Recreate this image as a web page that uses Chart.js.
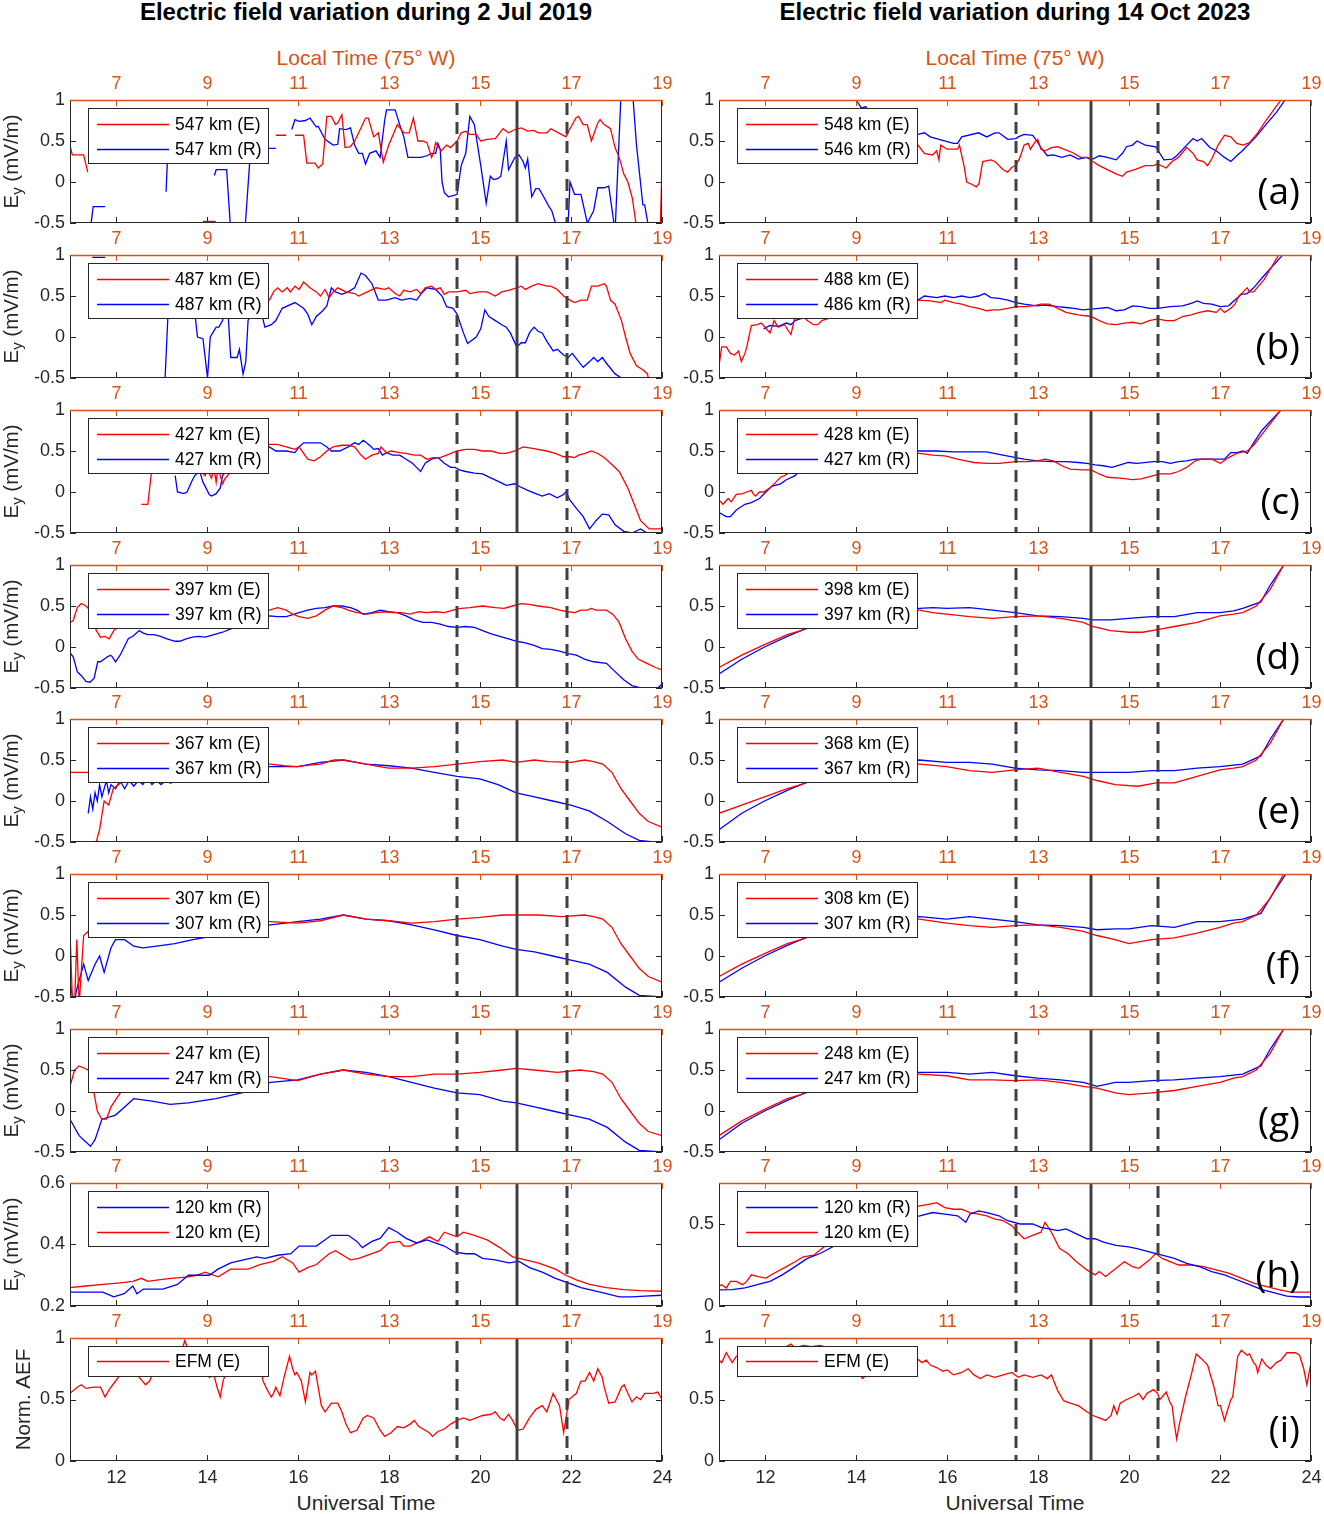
<!DOCTYPE html>
<html><head><meta charset="utf-8">
<script src="https://cdn.jsdelivr.net/npm/chart.js@4.4.1/dist/chart.umd.min.js"></script>
<style>
body{margin:0;background:#fff;width:1324px;height:1514px;position:relative;overflow:hidden;font-family:"Liberation Sans",Arial,sans-serif;}
.lbl{position:absolute;transform:translate(-50%,-50%);white-space:nowrap;}
.ttl{font-weight:bold;font-size:24px;color:#000;}
.lt{font-size:21px;color:#D95319;}
.ut{font-size:21px;color:#262626;}
.pnl{position:absolute;}
</style></head><body>
<div class="lbl ttl" style="left:366px;top:12px">Electric field variation during 2 Jul 2019</div>
<div class="lbl ttl" style="left:1015px;top:12px">Electric field variation during 14 Oct 2023</div>
<div class="lbl lt" style="left:366px;top:58px">Local Time (75° W)</div>
<div class="lbl lt" style="left:1015px;top:58px">Local Time (75° W)</div>
<div class="lbl ut" style="left:366px;top:1503px">Universal Time</div>
<div class="lbl ut" style="left:1015px;top:1503px">Universal Time</div>
<script>
// ===== axis / tick data =====
const UT_TICKS = [12,14,16,18,20,22,24];
const LT_OFFSET = 5;
const EVENTS_L = [19.5, 20.82, 21.92];
const EVENTS_R = [17.52, 19.17, 20.63];
const EVENT_STYLE = ['dash','solid','dash'];
const ROW_TOP = [100,255,410,565,719,874,1029,1183,1338];
const LETTERS = ['(a)','(b)','(c)','(d)','(e)','(f)','(g)','(h)','(i)'];

// ===== legends =====
const LEG_L = [['547 km (E)','547 km (R)'],['487 km (E)','487 km (R)'],['427 km (E)','427 km (R)'],['397 km (E)','397 km (R)'],['367 km (E)','367 km (R)'],['307 km (E)','307 km (R)'],['247 km (E)','247 km (R)'],['120 km (R)','120 km (E)'],['EFM (E)']];
const LEG_R = [['548 km (E)','546 km (R)'],['488 km (E)','486 km (R)'],['428 km (E)','427 km (R)'],['398 km (E)','397 km (R)'],['368 km (E)','367 km (R)'],['308 km (E)','307 km (R)'],['248 km (E)','247 km (R)'],['120 km (R)','120 km (E)'],['EFM (E)']];

// ===== series (UT hour, value) =====
const aLE=[[11,0.45],[11.05,0.33],[11.3,0.33],[11.39,0.12],[11.4,null],[13.92,-0.48],[14.2,-0.48],[14.25,null],[15.52,0.57],[15.75,0.57],[15.8,null],[15.94,0.57],[16.13,0.57],[16.2,0.23],[16.38,0.23],[16.45,0.17],[16.55,0.22],[16.64,0.8],[16.74,0.8],[16.83,0.7],[16.88,0.72],[16.97,0.82],[17.04,0.42],[17.16,0.43],[17.25,0.5],[17.34,0.6],[17.49,0.78],[17.55,0.78],[17.67,0.55],[17.77,0.6],[17.88,0.24],[18.0,0.45],[18.19,0.7],[18.33,0.6],[18.45,0.6],[18.54,0.78],[18.64,0.5],[18.75,0.5],[18.84,0.48],[18.94,0.3],[18.98,0.35],[19.03,0.48],[19.15,0.38],[19.27,0.45],[19.36,0.42],[19.5,0.5],[19.59,0.6],[19.69,0.62],[19.78,0.58],[19.92,0.58],[20.02,0.5],[20.16,0.52],[20.34,0.53],[20.51,0.65],[20.63,0.6],[20.77,0.64],[20.91,0.66],[21.05,0.62],[21.19,0.63],[21.28,0.6],[21.47,0.6],[21.56,0.65],[21.66,0.62],[21.89,0.55],[21.98,0.65],[22.11,0.78],[22.17,0.8],[22.27,0.7],[22.36,0.7],[22.45,0.5],[22.59,0.72],[22.64,0.76],[22.73,0.7],[22.87,0.65],[22.97,0.42],[23.06,0.3],[23.16,0.1],[23.25,0.0],[23.35,-0.2],[23.44,-0.55],[23.6,-0.8],[23.95,-0.8],[24,0.18]];
const aLR=[[11.44,-0.6],[11.51,-0.3],[11.77,-0.3],[11.8,null],[13.11,-0.12],[13.15,0.4],[13.5,0.4],[13.6,null],[14.17,0.08],[14.21,0.15],[14.44,0.15],[14.53,-0.6],[14.6,null],[14.84,-0.6],[14.96,0.35],[15.2,0.4],[15.38,0.41],[15.52,0.41],[15.6,null],[15.87,0.64],[15.94,0.76],[16.03,0.74],[16.17,0.75],[16.27,0.78],[16.41,0.67],[16.45,0.68],[16.6,0.52],[16.78,0.45],[16.88,0.46],[16.92,0.65],[17.06,0.64],[17.16,0.66],[17.25,0.45],[17.34,0.35],[17.42,0.35],[17.49,0.22],[17.58,0.35],[17.72,0.38],[17.81,0.3],[17.91,0.75],[17.95,0.88],[18.14,0.88],[18.24,0.7],[18.33,0.55],[18.42,0.3],[18.7,0.3],[18.84,0.32],[18.94,0.35],[19.03,0.35],[19.08,0.47],[19.13,0.4],[19.17,0.0],[19.22,-0.13],[19.31,-0.18],[19.45,-0.16],[19.5,-0.15],[19.59,0.2],[19.69,0.35],[19.78,0.8],[19.88,0.7],[20.02,0.2],[20.14,-0.26],[20.23,0.07],[20.3,0.03],[20.39,0.04],[20.46,0.07],[20.58,0.5],[20.63,0.15],[20.77,0.3],[20.86,0.33],[20.95,0.25],[21.0,0.17],[21.05,0.28],[21.14,-0.18],[21.23,-0.08],[21.3,-0.08],[21.37,-0.15],[21.52,-0.3],[21.58,-0.35],[21.66,-0.5],[21.8,-0.7],[21.94,-0.5],[21.98,0.0],[22.08,-0.15],[22.22,-0.15],[22.36,-0.5],[22.5,-0.35],[22.59,-0.07],[22.73,-0.07],[22.83,-0.05],[22.97,-0.6],[23.11,1.2],[23.34,1.2],[23.44,0.45],[23.58,-0.28],[23.62,-0.28],[23.72,-0.6]];
const aRE=[[15.0,0.5],[15.37,0.45],[15.51,0.35],[15.69,0.33],[15.78,0.38],[15.83,0.27],[15.87,0.45],[16.01,0.4],[16.24,0.4],[16.28,0.45],[16.38,0.2],[16.44,0.0],[16.56,-0.03],[16.65,-0.06],[16.71,-0.02],[16.79,0.25],[16.97,0.27],[17.06,0.25],[17.24,0.15],[17.34,0.12],[17.43,0.18],[17.52,0.2],[17.61,0.3],[17.7,0.45],[17.79,0.47],[17.84,0.4],[17.93,0.48],[18.0,0.52],[18.07,0.4],[18.16,0.38],[18.3,0.42],[18.44,0.43],[18.57,0.4],[18.76,0.36],[18.94,0.3],[19.08,0.3],[19.21,0.25],[19.35,0.2],[19.53,0.15],[19.72,0.1],[19.86,0.07],[19.95,0.12],[20.13,0.15],[20.36,0.2],[20.54,0.2],[20.63,0.22],[20.82,0.17],[20.95,0.25],[21.09,0.3],[21.27,0.42],[21.41,0.35],[21.5,0.27],[21.64,0.25],[21.73,0.2],[21.82,0.28],[21.96,0.45],[22.1,0.57],[22.24,0.55],[22.37,0.47],[22.51,0.45],[22.65,0.48],[22.83,0.6],[23.01,0.75],[23.34,1.0],[23.5,1.2]];
const aRR=[[14.01,1.0],[14.13,0.9],[14.22,0.92],[14.32,0.85],[14.8,0.7],[15.37,0.58],[15.51,0.6],[15.64,0.55],[15.83,0.52],[16.15,0.47],[16.24,0.47],[16.33,0.55],[16.7,0.6],[16.88,0.55],[17.06,0.6],[17.15,0.6],[17.34,0.52],[17.52,0.53],[17.57,0.55],[17.7,0.58],[17.89,0.57],[17.98,0.5],[18.07,0.42],[18.21,0.32],[18.34,0.33],[18.53,0.3],[18.71,0.33],[18.89,0.28],[19.08,0.3],[19.21,0.28],[19.35,0.32],[19.53,0.3],[19.72,0.27],[19.86,0.35],[19.95,0.43],[20.08,0.45],[20.18,0.5],[20.36,0.45],[20.59,0.43],[20.68,0.35],[20.77,0.27],[20.95,0.28],[21.05,0.32],[21.27,0.45],[21.41,0.53],[21.5,0.5],[21.6,0.53],[21.78,0.42],[21.92,0.38],[22.1,0.3],[22.24,0.25],[22.37,0.32],[22.47,0.37],[22.65,0.47],[22.79,0.55],[23.01,0.7],[23.24,0.85],[23.43,1.0],[23.6,1.2]];

const bLE=[[15.2,0.5],[15.38,0.45],[15.47,0.55],[15.56,0.6],[15.66,0.55],[15.77,0.6],[15.84,0.55],[15.94,0.62],[16.03,0.58],[16.13,0.67],[16.27,0.6],[16.41,0.55],[16.5,0.5],[16.6,0.58],[16.69,0.48],[16.78,0.55],[16.88,0.6],[17.06,0.55],[17.25,0.53],[17.34,0.5],[17.53,0.55],[17.72,0.6],[17.91,0.58],[18.0,0.6],[18.14,0.53],[18.24,0.5],[18.33,0.57],[18.47,0.55],[18.61,0.58],[18.7,0.53],[18.8,0.6],[18.94,0.62],[19.03,0.58],[19.13,0.6],[19.22,0.52],[19.31,0.55],[19.5,0.55],[19.69,0.57],[19.78,0.53],[19.97,0.55],[20.16,0.55],[20.34,0.5],[20.48,0.55],[20.63,0.57],[20.81,0.6],[20.91,0.62],[21.0,0.58],[21.14,0.62],[21.28,0.65],[21.47,0.62],[21.56,0.62],[21.7,0.58],[21.84,0.5],[21.98,0.45],[22.08,0.42],[22.22,0.45],[22.36,0.45],[22.45,0.62],[22.59,0.62],[22.73,0.65],[22.78,0.62],[22.87,0.45],[22.97,0.4],[23.11,0.2],[23.2,0.0],[23.3,-0.2],[23.44,-0.35],[23.58,-0.4],[23.68,-0.45],[23.72,-0.55]];
const bLR=[[11.49,0.97],[11.77,0.97],[11.8,null],[13.08,-0.6],[13.17,0.5],[13.4,0.7],[13.74,0.3],[13.8,0.0],[13.92,-0.02],[14.02,-0.5],[14.08,0.0],[14.21,0.12],[14.27,0.12],[14.35,0.2],[14.42,0.35],[14.47,0.3],[14.53,-0.25],[14.67,-0.25],[14.72,-0.15],[14.8,-0.45],[14.86,-0.3],[14.91,0.2],[15.1,0.45],[15.2,0.3],[15.28,0.12],[15.42,0.15],[15.52,0.2],[15.66,0.35],[15.94,0.42],[16.13,0.35],[16.22,0.28],[16.31,0.15],[16.41,0.25],[16.55,0.32],[16.64,0.38],[16.74,0.6],[16.83,0.55],[16.97,0.52],[17.11,0.55],[17.25,0.6],[17.39,0.78],[17.49,0.75],[17.63,0.65],[17.77,0.45],[17.95,0.45],[18.14,0.48],[18.28,0.45],[18.47,0.47],[18.61,0.45],[18.7,0.52],[18.84,0.6],[19.03,0.58],[19.17,0.5],[19.27,0.37],[19.41,0.35],[19.5,0.28],[19.64,0.05],[19.73,-0.08],[19.92,0.0],[20.02,0.1],[20.11,0.33],[20.2,0.25],[20.34,0.2],[20.48,0.15],[20.58,0.12],[20.67,0.05],[20.81,-0.12],[20.91,-0.07],[21.0,-0.07],[21.09,0.05],[21.19,0.12],[21.28,0.07],[21.37,0.05],[21.47,-0.05],[21.61,-0.17],[21.7,-0.15],[21.84,-0.22],[21.94,-0.25],[22.03,-0.2],[22.17,-0.3],[22.27,-0.37],[22.41,-0.3],[22.5,-0.25],[22.59,-0.3],[22.69,-0.25],[22.78,-0.32],[22.97,-0.45],[23.11,-0.5],[23.25,-0.5],[23.34,-0.55]];
const bRE=[[11.0,-0.35],[11.06,-0.12],[11.16,-0.12],[11.25,-0.2],[11.34,-0.22],[11.43,-0.17],[11.49,-0.3],[11.57,-0.2],[11.61,-0.12],[11.71,0.14],[11.84,0.15],[11.93,0.17],[12.12,0.05],[12.21,0.2],[12.3,0.12],[12.44,0.15],[12.53,0.07],[12.58,0.03],[12.67,0.25],[12.85,0.25],[12.94,0.2],[13.08,0.15],[13.17,0.15],[13.26,0.2],[13.8,0.3],[14.5,0.4],[15.41,0.45],[15.64,0.44],[15.87,0.42],[15.96,0.45],[16.15,0.42],[16.33,0.4],[16.51,0.37],[16.7,0.35],[16.88,0.32],[17.02,0.33],[17.15,0.33],[17.34,0.35],[17.52,0.37],[17.7,0.37],[17.89,0.38],[18.07,0.4],[18.25,0.4],[18.44,0.35],[18.62,0.3],[18.89,0.27],[19.17,0.25],[19.35,0.2],[19.53,0.16],[19.72,0.15],[19.9,0.17],[20.08,0.18],[20.27,0.16],[20.45,0.2],[20.63,0.22],[20.82,0.2],[21.0,0.2],[21.18,0.25],[21.37,0.27],[21.55,0.3],[21.73,0.32],[21.92,0.3],[22.01,0.35],[22.1,0.3],[22.24,0.35],[22.33,0.4],[22.42,0.5],[22.51,0.55],[22.6,0.6],[22.65,0.55],[22.74,0.55],[22.97,0.7],[23.29,1.0],[23.45,1.2]];
const bRR=[[11.98,0.1],[12.12,0.14],[12.3,0.13],[12.48,0.17],[12.58,0.15],[12.67,0.2],[13.2,0.3],[14.5,0.45],[15.37,0.45],[15.51,0.5],[15.78,0.48],[15.96,0.5],[16.15,0.48],[16.33,0.5],[16.51,0.48],[16.7,0.5],[16.83,0.53],[16.97,0.48],[17.15,0.47],[17.34,0.45],[17.52,0.42],[17.7,0.4],[17.98,0.38],[18.16,0.39],[18.44,0.37],[18.62,0.36],[18.8,0.35],[18.99,0.33],[19.35,0.35],[19.53,0.36],[19.72,0.32],[19.9,0.33],[20.08,0.38],[20.27,0.37],[20.45,0.35],[20.63,0.35],[20.91,0.37],[21.18,0.38],[21.37,0.41],[21.5,0.44],[21.64,0.41],[21.82,0.4],[22.01,0.37],[22.19,0.38],[22.33,0.45],[22.47,0.52],[22.6,0.53],[22.74,0.6],[22.97,0.75],[23.38,1.0],[23.5,1.15]];

const cLE=[[12.57,-0.15],[12.71,-0.15],[12.8,0.3],[13.2,0.4],[13.9,0.3],[13.92,0.25],[13.97,0.2],[14.02,0.3],[14.06,0.22],[14.11,0.17],[14.16,0.3],[14.21,0.12],[14.25,0.3],[14.35,0.1],[14.39,0.15],[14.49,0.22],[14.58,0.3],[15.0,0.5],[15.38,0.58],[15.56,0.58],[15.75,0.55],[15.94,0.52],[16.03,0.55],[16.22,0.4],[16.36,0.38],[16.5,0.43],[16.64,0.5],[16.78,0.55],[16.97,0.57],[17.11,0.57],[17.25,0.55],[17.39,0.45],[17.49,0.4],[17.63,0.45],[17.77,0.47],[17.83,0.55],[17.95,0.48],[18.05,0.5],[18.24,0.48],[18.38,0.47],[18.56,0.45],[18.7,0.45],[18.84,0.4],[18.98,0.42],[19.13,0.42],[19.27,0.45],[19.5,0.5],[19.69,0.52],[19.88,0.52],[20.06,0.5],[20.25,0.5],[20.44,0.47],[20.58,0.47],[20.77,0.5],[20.95,0.55],[21.19,0.53],[21.47,0.5],[21.66,0.47],[21.84,0.43],[21.98,0.43],[22.08,0.42],[22.17,0.45],[22.31,0.47],[22.45,0.5],[22.59,0.47],[22.73,0.42],[22.87,0.35],[23.06,0.25],[23.25,0.05],[23.39,-0.15],[23.53,-0.35],[23.72,-0.45],[24.0,-0.45]];
const cLR=[[13.31,0.2],[13.36,0.0],[13.5,-0.02],[13.57,0.0],[13.69,0.15],[13.74,0.2],[13.85,0.25],[13.92,0.12],[14.06,-0.03],[14.11,-0.05],[14.21,-0.02],[14.3,0.05],[14.35,0.2],[14.8,0.5],[15.38,0.55],[15.52,0.5],[15.75,0.5],[15.94,0.48],[16.03,0.55],[16.13,0.6],[16.31,0.6],[16.5,0.6],[16.64,0.55],[16.74,0.5],[16.92,0.5],[17.11,0.55],[17.25,0.6],[17.34,0.58],[17.44,0.63],[17.58,0.57],[17.67,0.52],[17.77,0.53],[17.86,0.45],[17.95,0.48],[18.09,0.45],[18.24,0.45],[18.38,0.4],[18.52,0.35],[18.61,0.3],[18.7,0.25],[18.8,0.35],[18.94,0.4],[19.08,0.42],[19.22,0.35],[19.36,0.3],[19.45,0.3],[19.55,0.27],[19.69,0.25],[19.88,0.23],[20.06,0.22],[20.25,0.17],[20.44,0.12],[20.58,0.08],[20.77,0.1],[20.86,0.07],[21.05,0.02],[21.23,-0.02],[21.37,-0.05],[21.52,-0.02],[21.7,-0.07],[21.84,-0.03],[21.89,0.0],[21.98,-0.1],[22.12,-0.2],[22.27,-0.3],[22.41,-0.45],[22.55,-0.35],[22.69,-0.27],[22.83,-0.28],[22.97,-0.4],[23.16,-0.48],[23.34,-0.5],[23.53,-0.45],[23.67,-0.5],[23.8,-0.6]];
const cRE=[[11.0,-0.1],[11.09,-0.15],[11.2,-0.08],[11.27,-0.12],[11.38,-0.03],[11.52,-0.02],[11.61,0.0],[11.71,0.02],[11.75,-0.02],[11.8,-0.05],[11.89,0.0],[11.98,0.0],[12.12,0.05],[12.25,0.12],[12.35,0.18],[12.44,0.2],[12.58,0.25],[13.5,0.4],[14.5,0.47],[15.41,0.47],[15.69,0.45],[15.96,0.44],[16.24,0.4],[16.42,0.38],[16.6,0.36],[16.88,0.35],[17.15,0.35],[17.52,0.37],[17.79,0.37],[17.98,0.38],[18.16,0.4],[18.34,0.38],[18.53,0.32],[18.71,0.28],[18.99,0.27],[19.17,0.27],[19.35,0.22],[19.53,0.18],[19.81,0.17],[20.08,0.15],[20.27,0.16],[20.54,0.2],[20.68,0.22],[20.91,0.22],[21.09,0.25],[21.27,0.3],[21.46,0.38],[21.6,0.4],[21.82,0.4],[22.01,0.35],[22.19,0.42],[22.37,0.47],[22.6,0.5],[22.74,0.57],[22.92,0.7],[23.34,1.0],[23.5,1.2]];
const cRR=[[11.0,-0.25],[11.16,-0.3],[11.25,-0.3],[11.38,-0.22],[11.57,-0.15],[11.71,-0.13],[11.89,-0.08],[12.03,0.0],[12.16,0.07],[12.35,0.1],[12.48,0.15],[12.67,0.2],[12.76,0.25],[13.5,0.4],[14.5,0.5],[15.41,0.5],[15.78,0.5],[16.15,0.49],[16.51,0.49],[16.88,0.49],[17.15,0.46],[17.52,0.42],[17.7,0.4],[17.98,0.38],[18.34,0.37],[18.62,0.37],[18.89,0.36],[19.08,0.35],[19.26,0.33],[19.44,0.32],[19.63,0.3],[19.81,0.33],[19.99,0.36],[20.18,0.35],[20.54,0.37],[20.73,0.37],[20.91,0.35],[21.09,0.37],[21.27,0.38],[21.46,0.4],[21.82,0.4],[22.1,0.4],[22.24,0.48],[22.37,0.48],[22.51,0.5],[22.6,0.47],[22.74,0.6],[22.92,0.75],[23.34,1.0],[23.5,1.2]];

const dLE=[[11.0,0.3],[11.07,0.32],[11.16,0.48],[11.25,0.53],[11.35,0.5],[11.44,0.45],[11.5,0.3],[11.58,0.2],[11.67,0.12],[11.77,0.13],[11.86,0.1],[11.96,0.2],[12.3,0.35],[13.5,0.4],[15.0,0.45],[15.38,0.45],[15.56,0.48],[15.75,0.45],[15.89,0.4],[16.03,0.37],[16.22,0.35],[16.41,0.38],[16.6,0.45],[16.78,0.5],[16.97,0.48],[17.11,0.45],[17.3,0.42],[17.53,0.4],[17.72,0.42],[17.91,0.43],[18.09,0.42],[18.28,0.42],[18.47,0.4],[18.66,0.43],[18.84,0.42],[19.03,0.43],[19.22,0.42],[19.41,0.45],[19.59,0.47],[19.78,0.48],[20.06,0.5],[20.34,0.48],[20.53,0.47],[20.72,0.5],[20.91,0.53],[21.09,0.52],[21.28,0.5],[21.56,0.48],[21.75,0.45],[21.94,0.43],[22.08,0.42],[22.22,0.45],[22.36,0.45],[22.45,0.47],[22.55,0.45],[22.78,0.45],[22.92,0.4],[23.06,0.3],[23.2,0.1],[23.34,-0.05],[23.48,-0.15],[23.67,-0.2],[23.86,-0.25],[24.0,-0.28]];
const dLR=[[11.0,-0.07],[11.07,-0.12],[11.16,-0.3],[11.25,-0.35],[11.35,-0.42],[11.44,-0.43],[11.53,-0.38],[11.61,-0.18],[11.67,-0.18],[11.82,-0.12],[11.89,-0.1],[11.93,-0.12],[12.0,-0.18],[12.1,-0.1],[12.19,0.0],[12.28,0.1],[12.38,0.13],[12.52,0.2],[12.61,0.17],[12.71,0.15],[12.85,0.15],[12.99,0.13],[13.13,0.1],[13.31,0.07],[13.41,0.07],[13.55,0.1],[13.69,0.12],[13.83,0.13],[13.97,0.12],[14.16,0.15],[14.35,0.18],[14.53,0.22],[14.72,0.25],[14.86,0.3],[15.1,0.35],[15.38,0.38],[15.56,0.37],[15.75,0.37],[16.03,0.42],[16.22,0.45],[16.41,0.47],[16.6,0.48],[16.78,0.5],[16.97,0.5],[17.16,0.48],[17.3,0.45],[17.44,0.4],[17.63,0.42],[17.81,0.45],[18.0,0.43],[18.19,0.42],[18.38,0.38],[18.56,0.33],[18.75,0.3],[18.94,0.3],[19.13,0.28],[19.31,0.25],[19.5,0.24],[19.69,0.25],[19.88,0.24],[20.06,0.2],[20.25,0.16],[20.44,0.13],[20.63,0.1],[20.81,0.07],[21.0,0.05],[21.19,0.02],[21.37,-0.02],[21.56,-0.03],[21.75,-0.05],[21.94,-0.08],[22.12,-0.1],[22.31,-0.15],[22.5,-0.18],[22.78,-0.2],[22.97,-0.3],[23.16,-0.4],[23.34,-0.47],[23.53,-0.5],[23.91,-0.5],[24.0,-0.45]];
const dRE=[[11.0,-0.25],[11.5,-0.1],[12.0,0.03],[12.5,0.15],[12.8,0.2],[13.5,0.35],[14.5,0.45],[15.4,0.45],[15.7,0.42],[16.0,0.4],[16.5,0.37],[17.0,0.35],[17.5,0.37],[18.0,0.38],[18.5,0.35],[19.0,0.3],[19.2,0.25],[19.6,0.2],[20.0,0.18],[20.3,0.18],[20.6,0.21],[21.0,0.25],[21.5,0.3],[22.0,0.38],[22.3,0.4],[22.5,0.42],[22.8,0.5],[23.1,0.7],[23.4,1.0],[23.6,1.2]];
const dRR=[[11.0,-0.33],[11.5,-0.15],[12.0,0.0],[12.5,0.13],[12.8,0.2],[13.5,0.35],[14.5,0.45],[15.4,0.47],[15.7,0.48],[16.0,0.47],[16.5,0.48],[17.0,0.45],[17.5,0.42],[18.0,0.38],[18.5,0.37],[19.0,0.35],[19.2,0.33],[19.6,0.33],[20.0,0.35],[20.5,0.37],[21.0,0.37],[21.5,0.42],[22.0,0.42],[22.3,0.44],[22.5,0.47],[22.9,0.55],[23.1,0.75],[23.4,1.0],[23.6,1.2]];

const eLE=[[11.0,0.35],[11.4,0.35],[11.42,null],[11.55,-0.55],[11.65,-0.35],[11.75,0.0],[11.85,-0.05],[11.95,0.15],[12.3,0.3],[13.5,0.4],[15.0,0.45],[15.4,0.45],[15.7,0.43],[16.0,0.42],[16.3,0.44],[16.5,0.45],[16.8,0.5],[17.0,0.5],[17.3,0.47],[17.5,0.45],[17.8,0.42],[18.0,0.4],[18.5,0.4],[19.0,0.42],[19.5,0.45],[20.0,0.48],[20.5,0.5],[20.8,0.47],[21.2,0.5],[21.5,0.48],[22.0,0.47],[22.3,0.5],[22.5,0.48],[22.7,0.45],[22.9,0.35],[23.1,0.15],[23.3,0.0],[23.5,-0.15],[23.7,-0.25],[24.0,-0.32]];
const eLR=[[11.4,-0.15],[11.45,0.05],[11.5,-0.1],[11.55,0.1],[11.6,0.0],[11.65,0.2],[11.7,0.05],[11.8,0.25],[11.85,0.1],[11.9,0.2],[12.0,0.15],[12.1,0.25],[12.2,0.15],[12.3,0.25],[12.4,0.18],[12.5,0.25],[12.6,0.2],[12.7,0.28],[12.8,0.2],[12.9,0.25],[13.0,0.2],[13.1,0.25],[13.2,0.22],[13.4,0.25],[14.0,0.3],[15.0,0.4],[15.4,0.42],[16.0,0.42],[16.5,0.47],[17.0,0.5],[17.5,0.45],[18.0,0.43],[18.5,0.4],[19.0,0.35],[19.5,0.3],[20.0,0.27],[20.4,0.2],[20.8,0.1],[21.2,0.05],[21.6,0.0],[22.0,-0.05],[22.4,-0.12],[22.8,-0.25],[23.2,-0.4],[23.5,-0.48],[23.8,-0.5]];
const eRE=[[11.0,-0.15],[11.5,-0.05],[12.0,0.05],[12.5,0.15],[12.8,0.2],[13.5,0.35],[14.5,0.45],[15.4,0.45],[16.0,0.42],[16.5,0.37],[17.0,0.35],[17.5,0.38],[18.0,0.4],[18.5,0.35],[19.0,0.3],[19.3,0.25],[19.7,0.2],[20.2,0.18],[20.6,0.22],[21.0,0.22],[21.5,0.3],[22.0,0.38],[22.3,0.4],[22.5,0.42],[22.8,0.5],[23.1,0.7],[23.4,1.0],[23.6,1.2]];
const eRR=[[11.0,-0.35],[11.5,-0.15],[12.0,0.0],[12.5,0.13],[12.8,0.2],[13.5,0.35],[14.5,0.47],[15.4,0.5],[16.0,0.47],[16.5,0.47],[17.0,0.45],[17.5,0.4],[18.0,0.38],[18.5,0.37],[19.0,0.35],[19.5,0.35],[20.0,0.35],[20.5,0.37],[21.0,0.37],[21.5,0.4],[22.0,0.42],[22.5,0.45],[22.9,0.55],[23.1,0.75],[23.4,1.0],[23.6,1.2]];

const fLE=[[11.0,0.3],[11.05,-0.5],[11.1,-0.6],[11.15,0.2],[11.2,-0.6],[11.3,0.25],[11.4,0.3],[12.0,0.35],[13.5,0.4],[15.0,0.42],[15.4,0.42],[16.0,0.4],[16.5,0.43],[17.0,0.5],[17.5,0.45],[18.0,0.43],[18.5,0.4],[19.0,0.42],[19.5,0.45],[20.0,0.47],[20.5,0.5],[20.9,0.5],[21.3,0.5],[21.8,0.48],[22.3,0.5],[22.5,0.48],[22.7,0.45],[22.9,0.35],[23.1,0.15],[23.3,0.0],[23.5,-0.15],[23.7,-0.25],[24.0,-0.32]];
const fLR=[[11.0,-0.3],[11.08,-0.6],[11.15,-0.4],[11.3,-0.1],[11.4,-0.3],[11.55,-0.1],[11.65,0.0],[11.75,-0.2],[11.9,0.1],[12.0,0.2],[12.2,0.2],[12.4,0.12],[12.6,0.1],[12.9,0.12],[13.3,0.15],[13.7,0.2],[14.2,0.25],[15.0,0.35],[15.4,0.38],[16.0,0.42],[16.5,0.45],[17.0,0.5],[17.5,0.45],[18.0,0.43],[18.5,0.38],[19.0,0.32],[19.5,0.25],[20.0,0.2],[20.5,0.12],[20.8,0.08],[21.2,0.05],[21.6,0.0],[22.0,-0.05],[22.4,-0.1],[22.8,-0.2],[23.2,-0.38],[23.5,-0.48],[24.0,-0.5]];
const fRE=[[11.0,-0.25],[11.5,-0.1],[12.0,0.03],[12.5,0.15],[12.8,0.2],[13.5,0.35],[14.5,0.45],[15.4,0.45],[16.0,0.4],[16.5,0.37],[17.0,0.35],[17.5,0.37],[18.0,0.38],[18.5,0.35],[19.0,0.3],[19.3,0.25],[19.7,0.2],[20.0,0.15],[20.5,0.2],[21.0,0.22],[21.5,0.28],[22.0,0.35],[22.3,0.4],[22.5,0.42],[22.8,0.5],[23.1,0.7],[23.4,1.0],[23.6,1.2]];
const fRR=[[11.0,-0.32],[11.5,-0.15],[12.0,0.0],[12.5,0.13],[12.8,0.2],[13.5,0.35],[14.5,0.45],[15.4,0.48],[16.0,0.45],[16.5,0.48],[17.0,0.45],[17.5,0.42],[18.0,0.38],[18.5,0.37],[19.0,0.35],[19.3,0.32],[19.7,0.33],[20.0,0.33],[20.5,0.37],[21.0,0.35],[21.5,0.42],[22.0,0.42],[22.5,0.45],[22.9,0.52],[23.15,0.75],[23.45,1.0],[23.6,1.2]];

const gLE=[[11.0,0.3],[11.1,0.5],[11.2,0.55],[11.4,0.5],[11.5,0.3],[11.6,0.0],[11.7,-0.1],[11.8,-0.1],[11.9,0.05],[12.2,0.3],[13.5,0.4],[15.0,0.42],[15.4,0.42],[16.0,0.37],[16.5,0.45],[17.0,0.5],[17.5,0.45],[18.0,0.42],[18.5,0.42],[19.0,0.45],[19.5,0.45],[20.0,0.47],[20.5,0.5],[20.8,0.52],[21.2,0.5],[21.7,0.47],[22.2,0.5],[22.5,0.48],[22.7,0.45],[22.9,0.35],[23.1,0.15],[23.3,0.0],[23.5,-0.15],[23.7,-0.25],[24.0,-0.3]];
const gLR=[[11.0,-0.1],[11.2,-0.3],[11.45,-0.43],[11.55,-0.35],[11.7,-0.1],[12.0,-0.05],[12.2,0.05],[12.4,0.15],[12.8,0.12],[13.2,0.08],[13.6,0.1],[14.2,0.15],[14.6,0.2],[15.0,0.25],[15.4,0.35],[16.0,0.38],[16.5,0.45],[17.0,0.5],[17.5,0.47],[18.0,0.42],[18.5,0.35],[19.0,0.28],[19.5,0.22],[20.0,0.2],[20.5,0.12],[20.8,0.1],[21.2,0.05],[21.6,0.0],[22.0,-0.05],[22.4,-0.1],[22.8,-0.2],[23.2,-0.38],[23.5,-0.48],[24.0,-0.5]];
const gRE=[[11.0,-0.3],[11.5,-0.12],[12.0,0.02],[12.5,0.15],[12.8,0.2],[13.5,0.35],[14.5,0.45],[15.4,0.45],[16.0,0.43],[16.5,0.38],[17.0,0.38],[17.5,0.37],[18.0,0.38],[18.5,0.35],[19.0,0.3],[19.3,0.28],[19.7,0.22],[20.0,0.2],[20.5,0.22],[21.0,0.25],[21.5,0.3],[22.0,0.35],[22.3,0.4],[22.5,0.42],[22.8,0.5],[23.1,0.7],[23.4,1.0],[23.6,1.2]];
const gRR=[[11.0,-0.35],[11.5,-0.15],[12.0,0.0],[12.5,0.13],[12.8,0.2],[13.5,0.35],[14.5,0.45],[15.4,0.47],[16.0,0.47],[16.5,0.45],[17.0,0.47],[17.5,0.43],[18.0,0.4],[18.5,0.38],[19.0,0.35],[19.3,0.3],[19.7,0.35],[20.0,0.35],[20.5,0.37],[21.0,0.38],[21.5,0.4],[22.0,0.42],[22.5,0.45],[22.9,0.55],[23.1,0.75],[23.4,1.0],[23.6,1.2]];

const hLR=[[11.0,0.245],[11.35,0.245],[11.72,0.245],[11.96,0.23],[12.19,0.24],[12.38,0.265],[12.47,0.24],[12.61,0.255],[13.04,0.255],[13.36,0.27],[13.6,0.3],[14.06,0.3],[14.25,0.32],[14.53,0.34],[14.81,0.35],[15.1,0.36],[15.28,0.355],[15.56,0.365],[15.85,0.37],[16.03,0.395],[16.41,0.395],[16.74,0.43],[17.11,0.43],[17.3,0.41],[17.42,0.39],[17.63,0.41],[17.81,0.42],[18.0,0.455],[18.19,0.44],[18.38,0.42],[18.61,0.405],[18.84,0.415],[19.22,0.395],[19.45,0.375],[19.69,0.37],[19.88,0.37],[20.06,0.355],[20.34,0.35],[20.63,0.34],[20.86,0.345],[21.09,0.325],[21.37,0.31],[21.66,0.29],[21.94,0.275],[22.22,0.26],[22.5,0.25],[22.78,0.24],[23.06,0.23],[23.34,0.23],[23.62,0.232],[24.0,0.235]];
const hLE=[[11.0,0.26],[11.35,0.265],[11.72,0.27],[12.1,0.275],[12.38,0.28],[12.57,0.29],[12.71,0.28],[12.94,0.285],[13.22,0.29],[13.6,0.295],[13.78,0.3],[13.97,0.31],[14.25,0.295],[14.53,0.32],[14.91,0.32],[15.19,0.335],[15.47,0.345],[15.66,0.36],[15.89,0.34],[16.03,0.31],[16.22,0.325],[16.41,0.335],[16.69,0.37],[16.83,0.38],[17.16,0.35],[17.34,0.355],[17.63,0.37],[17.81,0.38],[18.0,0.405],[18.24,0.41],[18.33,0.395],[18.47,0.395],[18.7,0.41],[18.89,0.425],[19.08,0.41],[19.22,0.44],[19.5,0.425],[19.64,0.44],[19.88,0.43],[20.16,0.415],[20.44,0.39],[20.72,0.36],[21.0,0.35],[21.28,0.34],[21.66,0.32],[21.89,0.3],[22.12,0.285],[22.41,0.27],[22.78,0.26],[23.16,0.253],[23.53,0.25],[24.0,0.248]];
const hRR=[[11.0,0.098],[11.29,0.1],[11.57,0.11],[11.84,0.13],[12.12,0.15],[12.39,0.19],[12.67,0.24],[12.94,0.29],[13.22,0.32],[13.49,0.36],[14.2,0.45],[15.0,0.53],[15.41,0.55],[15.69,0.57],[15.96,0.56],[16.24,0.55],[16.42,0.51],[16.51,0.56],[16.7,0.58],[16.88,0.57],[17.15,0.55],[17.34,0.52],[17.61,0.5],[17.89,0.5],[18.07,0.48],[18.25,0.47],[18.44,0.46],[18.62,0.47],[18.85,0.44],[19.08,0.41],[19.26,0.41],[19.44,0.39],[19.72,0.37],[19.99,0.36],[20.18,0.35],[20.45,0.33],[20.73,0.31],[21.0,0.29],[21.27,0.26],[21.55,0.24],[21.82,0.21],[22.1,0.19],[22.37,0.16],[22.65,0.13],[22.92,0.1],[23.2,0.08],[23.47,0.06],[23.75,0.055],[24.0,0.055]];
const hRE=[[11.0,0.12],[11.06,0.13],[11.16,0.11],[11.25,0.15],[11.38,0.15],[11.52,0.13],[11.61,0.15],[11.71,0.19],[11.84,0.18],[12.03,0.17],[12.21,0.2],[12.48,0.24],[12.67,0.27],[12.85,0.3],[13.08,0.31],[13.26,0.35],[13.4,0.38],[14.2,0.5],[15.0,0.58],[15.41,0.61],[15.6,0.62],[15.78,0.63],[15.96,0.6],[16.15,0.59],[16.33,0.59],[16.51,0.57],[16.7,0.56],[16.88,0.55],[17.06,0.53],[17.24,0.52],[17.43,0.49],[17.52,0.46],[17.7,0.41],[17.89,0.43],[18.07,0.45],[18.16,0.51],[18.3,0.45],[18.48,0.35],[18.66,0.32],[18.85,0.27],[19.08,0.22],[19.26,0.19],[19.35,0.21],[19.49,0.18],[19.72,0.23],[19.9,0.27],[20.08,0.24],[20.22,0.23],[20.45,0.28],[20.59,0.32],[20.73,0.29],[20.91,0.27],[21.09,0.25],[21.37,0.25],[21.64,0.24],[21.92,0.22],[22.19,0.2],[22.47,0.17],[22.74,0.14],[23.01,0.12],[23.29,0.1],[23.56,0.085],[24.0,0.085]];

const iLE=[[11.0,0.55],[11.16,0.6],[11.25,0.62],[11.35,0.59],[11.53,0.6],[11.67,0.6],[11.77,0.52],[11.86,0.58],[11.96,0.63],[12.1,0.7],[12.4,0.72],[12.52,0.68],[12.66,0.62],[12.75,0.65],[12.8,0.7],[13.1,0.8],[13.46,0.9],[13.52,0.98],[13.6,0.9],[13.9,0.75],[14.06,0.68],[14.16,0.7],[14.23,0.6],[14.3,0.52],[14.36,0.65],[14.49,0.78],[14.72,0.8],[14.86,0.85],[14.96,0.88],[15.05,0.93],[15.12,0.92],[15.17,0.8],[15.24,0.65],[15.33,0.58],[15.42,0.52],[15.47,0.55],[15.52,0.6],[15.61,0.53],[15.7,0.68],[15.82,0.85],[15.89,0.75],[15.94,0.7],[15.98,0.72],[16.08,0.65],[16.17,0.48],[16.27,0.72],[16.31,0.7],[16.39,0.73],[16.45,0.6],[16.52,0.45],[16.6,0.4],[16.74,0.47],[16.88,0.47],[16.97,0.4],[17.06,0.3],[17.16,0.23],[17.3,0.25],[17.44,0.35],[17.53,0.37],[17.67,0.35],[17.81,0.25],[17.91,0.2],[18.05,0.23],[18.19,0.28],[18.33,0.27],[18.47,0.3],[18.56,0.33],[18.66,0.28],[18.8,0.25],[18.89,0.23],[18.96,0.2],[19.08,0.24],[19.22,0.26],[19.36,0.3],[19.5,0.33],[19.64,0.35],[19.78,0.33],[19.92,0.35],[20.06,0.37],[20.25,0.38],[20.34,0.4],[20.44,0.35],[20.53,0.33],[20.63,0.38],[20.72,0.33],[20.83,0.25],[20.95,0.26],[21.09,0.35],[21.23,0.42],[21.37,0.45],[21.47,0.4],[21.61,0.55],[21.75,0.45],[21.84,0.23],[21.96,0.5],[22.12,0.55],[22.22,0.65],[22.31,0.65],[22.41,0.72],[22.5,0.65],[22.59,0.75],[22.69,0.68],[22.73,0.6],[22.83,0.47],[22.97,0.48],[23.11,0.6],[23.17,0.62],[23.25,0.55],[23.34,0.48],[23.44,0.52],[23.53,0.5],[23.62,0.55],[23.81,0.55],[23.91,0.56],[24.0,0.5]];
const iRE=[[11.0,0.82],[11.06,0.8],[11.16,0.88],[11.29,0.8],[11.38,0.85],[11.8,0.88],[12.2,0.9],[12.48,0.93],[12.58,0.95],[12.67,0.92],[12.85,0.94],[13.03,0.93],[13.22,0.94],[13.4,0.92],[13.7,0.85],[14.0,0.75],[14.15,0.67],[14.5,0.78],[14.91,0.8],[15.05,0.83],[15.18,0.8],[15.32,0.84],[15.46,0.8],[15.55,0.82],[15.64,0.78],[15.78,0.76],[15.92,0.73],[16.01,0.74],[16.15,0.7],[16.33,0.72],[16.47,0.75],[16.6,0.7],[16.74,0.67],[16.88,0.7],[17.06,0.68],[17.24,0.7],[17.43,0.72],[17.57,0.68],[17.7,0.7],[17.89,0.68],[18.07,0.7],[18.21,0.67],[18.3,0.7],[18.44,0.57],[18.57,0.49],[18.71,0.47],[18.89,0.45],[19.08,0.4],[19.21,0.37],[19.35,0.35],[19.49,0.33],[19.61,0.37],[19.67,0.45],[19.74,0.38],[19.81,0.47],[19.95,0.5],[20.08,0.52],[20.22,0.55],[20.31,0.5],[20.4,0.55],[20.54,0.58],[20.63,0.55],[20.68,0.5],[20.73,0.52],[20.82,0.56],[20.91,0.47],[20.95,0.45],[21.0,0.3],[21.05,0.18],[21.11,0.3],[21.23,0.5],[21.37,0.7],[21.48,0.87],[21.6,0.83],[21.73,0.78],[21.87,0.6],[21.96,0.45],[22.01,0.45],[22.1,0.33],[22.14,0.38],[22.24,0.5],[22.28,0.52],[22.39,0.85],[22.47,0.9],[22.6,0.86],[22.65,0.87],[22.74,0.8],[22.79,0.78],[22.83,0.72],[22.92,0.83],[23.01,0.78],[23.11,0.75],[23.24,0.8],[23.34,0.82],[23.47,0.88],[23.66,0.88],[23.75,0.86],[23.84,0.75],[23.91,0.62],[24.0,0.8]];

// ===== y ranges and ticks =====
const Y_STD = [-0.5, 1];          const YT_STD = [-0.5, 0, 0.5, 1];
const Y_H_L = [0.2, 0.6];         const YT_H_L = [0.2, 0.4, 0.6];
const Y_H_R = [0, 0.75];          const YT_H_R = [0, 0.5];
const Y_I = [0, 1];               const YT_I = [0, 0.5, 1];

const RED = '#FF0000', BLUE = '#0000FF', ORANGE = '#D95319', AX = '#262626';

const ROWS = [
  [[aLE,RED],[aLR,BLUE]],[[aRE,RED],[aRR,BLUE]],
  [[bLE,RED],[bLR,BLUE]],[[bRE,RED],[bRR,BLUE]],
  [[cLE,RED],[cLR,BLUE]],[[cRE,RED],[cRR,BLUE]],
  [[dLE,RED],[dLR,BLUE]],[[dRE,RED],[dRR,BLUE]],
  [[eLE,RED],[eLR,BLUE]],[[eRE,RED],[eRR,BLUE]],
  [[fLE,RED],[fLR,BLUE]],[[fRE,RED],[fRR,BLUE]],
  [[gLE,RED],[gLR,BLUE]],[[gRE,RED],[gRR,BLUE]],
  [[hLR,BLUE],[hLE,RED]],[[hRR,BLUE],[hRE,RED]],
  [[iLE,RED]],[[iRE,RED]]
];

const FONT = '"Liberation Sans", Arial, sans-serif';

const decor = {
  id: 'decor',
  afterDatasetsDraw(chart) {
    const p = chart.options.plugins.decor;
    const ctx = chart.ctx, a = chart.chartArea;
    const xs = chart.scales.x, ys = chart.scales.y;
    ctx.save();
    // event lines
    p.events.forEach((t, k) => {
      const X = Math.round(xs.getPixelForValue(t));
      ctx.beginPath();
      ctx.setLineDash(EVENT_STYLE[k] === 'dash' ? [12, 7] : []);
      ctx.lineDashOffset = -3;
      ctx.strokeStyle = '#404040'; ctx.lineWidth = 3;
      ctx.moveTo(X, a.top); ctx.lineTo(X, a.bottom); ctx.stroke();
    });
    ctx.setLineDash([]);
    // box
    ctx.strokeStyle = AX; ctx.lineWidth = 1;
    ctx.beginPath();
    ctx.moveTo(a.left + 0.5, a.top); ctx.lineTo(a.left + 0.5, a.bottom - 0.5);
    ctx.lineTo(a.right - 0.5, a.bottom - 0.5); ctx.lineTo(a.right - 0.5, a.top);
    ctx.stroke();
    // ticks and x labels
    ctx.font = '18px ' + FONT; ctx.textAlign = 'center'; ctx.textBaseline = 'middle';
    UT_TICKS.forEach(v => {
      const X = Math.round(xs.getPixelForValue(v)) + 0.5;
      ctx.lineWidth = 1;
      ctx.strokeStyle = AX; ctx.beginPath(); ctx.moveTo(X, a.bottom); ctx.lineTo(X, a.bottom - 6); ctx.stroke();
      ctx.strokeStyle = ORANGE; ctx.beginPath(); ctx.moveTo(X, a.top); ctx.lineTo(X, a.top + 6); ctx.stroke();
      ctx.fillStyle = ORANGE; ctx.fillText(String(v - LT_OFFSET), X, a.top - 16);
      if (p.last) { ctx.fillStyle = AX; ctx.fillText(String(v), X, a.bottom + 17); }
    });
    ctx.strokeStyle = AX; ctx.lineWidth = 1;
    p.yticks.forEach(v => {
      const Y = Math.round(ys.getPixelForValue(v)) + 0.5;
      ctx.beginPath(); ctx.moveTo(a.left, Y); ctx.lineTo(a.left + 6, Y);
      ctx.moveTo(a.right, Y); ctx.lineTo(a.right - 6, Y); ctx.stroke();
    });
    // top orange axis line
    ctx.strokeStyle = ORANGE; ctx.lineWidth = 1.6;
    ctx.beginPath(); ctx.moveTo(a.left, a.top + 0.5); ctx.lineTo(a.right, a.top + 0.5); ctx.stroke();
    // legend
    const n = p.legend.length;
    const bx = a.left + 18.5, by = a.top + 8.5, bw = 180, bh = n === 1 ? 30 : 55;
    ctx.fillStyle = '#fff'; ctx.fillRect(bx, by, bw, bh);
    ctx.strokeStyle = AX; ctx.lineWidth = 1; ctx.strokeRect(bx, by, bw, bh);
    ctx.font = '17.5px ' + FONT; ctx.textBaseline = 'middle'; ctx.textAlign = 'left';
    p.legend.forEach((txt, k) => {
      const cy = n === 1 ? by + bh / 2 : by + 16 + k * 25;
      ctx.strokeStyle = p.colors[k]; ctx.lineWidth = 1.3;
      ctx.beginPath(); ctx.moveTo(a.left + 27, cy); ctx.lineTo(a.left + 99, cy); ctx.stroke();
      ctx.fillStyle = '#000'; ctx.fillText(txt, a.left + 105, cy + 1);
    });
    // panel letter
    if (p.letter) {
      ctx.font = '37px "Open Sans", "Noto Sans", sans-serif';
      ctx.fillStyle = '#000'; ctx.textAlign = 'right'; ctx.textBaseline = 'middle';
      ctx.fillText(p.letter, a.right - 11, a.top + 93);
    }
    // y title
    if (p.ytitle) {
      ctx.translate(p.ytitle.x, (a.top + a.bottom) / 2);
      ctx.rotate(-Math.PI / 2);
      ctx.fillStyle = AX; ctx.textBaseline = 'middle'; ctx.textAlign = 'left';
      const parts = p.ytitle.parts;
      let w = 0;
      parts.forEach(pt => { ctx.font = pt[1] + 'px ' + FONT; w += ctx.measureText(pt[0]).width; });
      let x = -w / 2;
      parts.forEach(pt => { ctx.font = pt[1] + 'px ' + FONT; ctx.fillText(pt[0], x, pt[2]); x += ctx.measureText(pt[0]).width; });
    }
    ctx.restore();
  }
};

function fmt(v) { return String(Math.round(v * 100) / 100); }

function makePanel(row, col) {
  const plotLeft = col === 0 ? 70 : 719;
  const top = ROW_TOP[row];
  const W = 672, H = 183;
  const div = document.createElement('div');
  div.className = 'pnl';
  div.style.left = (plotLeft - 70) + 'px';
  div.style.top = (top - 30) + 'px';
  const cv = document.createElement('canvas');
  cv.width = W; cv.height = H; cv.style.width = W + 'px'; cv.style.height = H + 'px';
  div.appendChild(cv); document.body.appendChild(div);

  const series = ROWS[row * 2 + col];
  let yr = Y_STD, yt = YT_STD;
  if (row === 7) { yr = col === 0 ? Y_H_L : Y_H_R; yt = col === 0 ? YT_H_L : YT_H_R; }
  if (row === 8) { yr = Y_I; yt = YT_I; }
  let ytitle = null;
  if (col === 0) {
    ytitle = row === 8 ? { x: 24, parts: [['Norm. AEF', 20.5, 0]] }
                       : { x: 12, parts: [['E', 20.5, 0], ['y', 15, 6], [' (mV/m)', 20.5, 0]] };
  }
  new Chart(cv, {
    type: 'line',
    data: {
      datasets: series.map(([d, c]) => ({
        data: d.map(([x, y]) => ({ x, y })),
        borderColor: c, borderWidth: 1.3, pointRadius: 0, tension: 0, spanGaps: false, fill: false
      }))
    },
    options: {
      responsive: false, animation: false, devicePixelRatio: 1,
      layout: { padding: { left: 0, right: 10, top: 0, bottom: 0 } },
      scales: {
        x: {
          type: 'linear', position: 'bottom', min: 11, max: 24,
          afterBuildTicks: s => { s.ticks = UT_TICKS.map(v => ({ value: v })); },
          afterFit: s => { s.height = 30; },
          grid: { display: false, drawTicks: false }, border: { display: false },
          ticks: { display: false }
        },
        xt: {
          type: 'linear', position: 'top', min: 11, max: 24,
          afterBuildTicks: s => { s.ticks = UT_TICKS.map(v => ({ value: v })); },
          afterFit: s => { s.height = 30; },
          grid: { display: false, drawTicks: false }, border: { display: false },
          ticks: { display: false }
        },
        y: {
          type: 'linear', position: 'left', min: yr[0], max: yr[1],
          afterBuildTicks: s => { s.ticks = yt.map(v => ({ value: v })); },
          afterFit: s => { s.width = 70; },
          grid: { display: false, drawTicks: false }, border: { display: false },
          ticks: { color: AX, font: { family: FONT, size: 18 }, padding: 5, callback: v => fmt(v) }
        }
      },
      plugins: {
        legend: { display: false }, tooltip: { enabled: false },
        decor: {
          events: col === 0 ? EVENTS_L : EVENTS_R,
          yticks: yt,
          legend: col === 0 ? LEG_L[row] : LEG_R[row],
          colors: series.map(s => s[1]),
          letter: col === 1 ? LETTERS[row] : null,
          last: row === 8,
          ytitle
        }
      }
    },
    plugins: [decor]
  });
}

for (let r = 0; r < 9; r++) { makePanel(r, 0); makePanel(r, 1); }
</script>
</body></html>
